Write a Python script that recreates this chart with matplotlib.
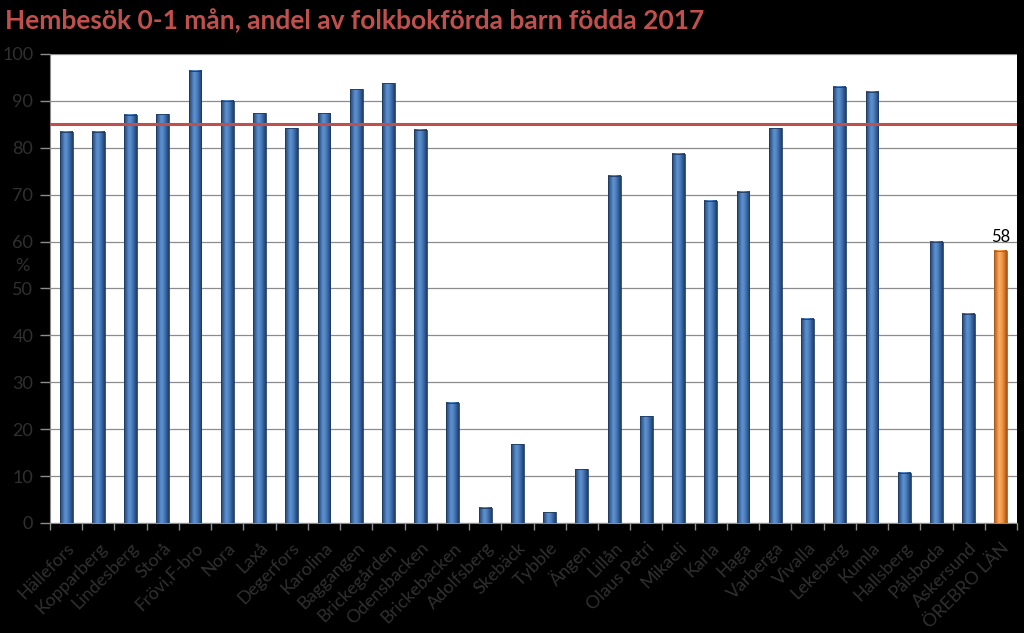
import matplotlib
matplotlib.use("Agg")
import matplotlib.pyplot as plt
import numpy as np
from matplotlib.colors import LinearSegmentedColormap

categories = ["Hällefors", "Kopparberg", "Lindesberg", "Storå", "Frövi,F-bro", "Nora", "Laxå",
              "Degerfors", "Karolina", "Baggangen", "Brickegården", "Odensbacken", "Brickebacken",
              "Adolfsberg", "Skebäck", "Tybble", "Ängen", "Lillån", "Olaus Petri", "Mikaeli",
              "Karla", "Haga", "Varberga", "Vivalla", "Lekeberg", "Kumla", "Hallsberg",
              "Pålsboda", "Askersund", "ÖREBRO LÄN"]
values = [83.4, 83.4, 87.0, 87.2, 96.4, 90.0, 87.4, 84.2, 87.4, 92.5, 93.8, 83.8, 25.6,
          3.2, 16.8, 2.3, 11.5, 74.0, 22.8, 78.7, 68.7, 70.6, 84.2, 43.5, 93.0, 91.9,
          10.7, 60.0, 44.6, 58.0]
target = 85
yticks = list(range(0, 101, 10))

plt.rcParams['font.family'] = ['Lato', 'DejaVu Sans']

fig = plt.figure(figsize=(10.24, 6.33), dpi=100, facecolor='black')
ax = fig.add_axes([0.0488, 0.1738, 0.9444, 0.7409])
ax.set_facecolor('white')

x = np.arange(len(categories))
n = len(categories)
bars = ax.bar(x, values, width=0.4, color='none', edgecolor='none', zorder=3)

blue_cmap = LinearSegmentedColormap.from_list(
    'blue', ['#25446b', '#3d6aa3', '#5f93d3', '#4f82c0', '#35609a', '#203c60'])
orange_cmap = LinearSegmentedColormap.from_list(
    'orange', ['#a85d20', '#e07f30', '#fbb06b', '#f49a4c', '#d97a2c', '#9a5419'])
grad = np.linspace(0, 1, 64).reshape(1, -1)
for i, b in enumerate(bars):
    cm = orange_cmap if i == n - 1 else blue_cmap
    x0, w, h = b.get_x(), b.get_width(), b.get_height()
    ax.imshow(grad, cmap=cm, aspect='auto', extent=(x0, x0 + w, 0, h),
              zorder=3, interpolation='bicubic')
    edge = '#a05a20' if i == n - 1 else '#1f3a5f'
    ax.add_patch(plt.Rectangle((x0, 0), w, h, fill=False, edgecolor=edge,
                               linewidth=0.6, zorder=4))

ax.axhline(target, color='#c0504d', linewidth=2.2, zorder=5)

label_color = '#303030'
ax.set_xlim(-0.5, n - 0.5)
ax.set_ylim(0, 100)
ax.set_yticks(yticks)
ax.set_yticklabels([str(v) for v in yticks], color=label_color, fontsize=13)
ax.yaxis.grid(True, color='#8c8c8c', linewidth=0.9, zorder=0)
ax.set_axisbelow(True)

ax.set_xticks(x)
ax.set_xticklabels(categories, rotation=45, ha='right', rotation_mode='anchor',
                   color=label_color, fontsize=13)
ax.set_xticks(np.arange(-0.5, n), minor=True)
ax.tick_params(axis='x', which='major', length=0, pad=12)
ax.tick_params(axis='x', which='minor', length=5, color='#8c8c8c', width=1)
ax.tick_params(axis='y', length=7, color='#8c8c8c', width=1, pad=5)

for s in ['top', 'right']:
    ax.spines[s].set_visible(False)
ax.spines['left'].set_color('#8c8c8c')
ax.spines['bottom'].set_color('#8c8c8c')

ax.text(x[-1], values[-1] + 1.2, f"{values[-1]:.0f}", ha='center', va='bottom',
        fontsize=12, color='black', zorder=6)

fig.text(0.0215, 0.5798, '%', color=label_color, fontsize=13, ha='center', va='center')
fig.text(0.005, 0.967, 'Hembesök 0-1 mån, andel av folkbokförda barn födda 2017',
         color='#c0504d', fontsize=19, fontweight='bold', ha='left', va='center')

fig.savefig('out.png', dpi=100, facecolor='black')
